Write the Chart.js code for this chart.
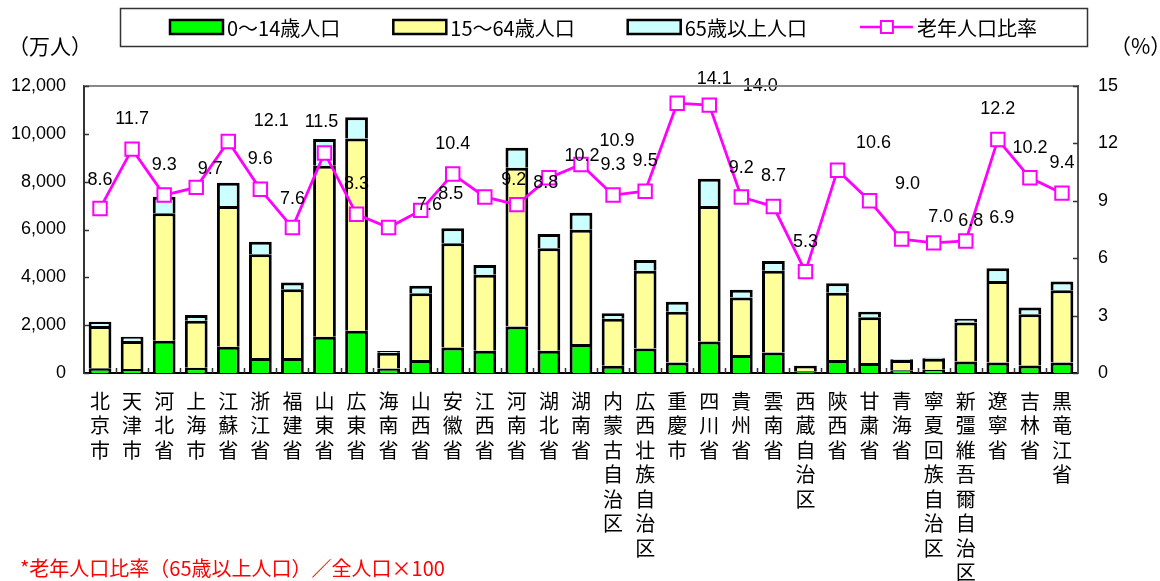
<!DOCTYPE html>
<html>
<head>
<meta charset="utf-8">
<script src="https://cdn.jsdelivr.net/npm/chart.js@4.4.1/dist/chart.umd.min.js"></script>
<style>
  body { margin: 0; background: #fff; }
</style>
</head>
<body>
<canvas id="chart" width="1160" height="581"></canvas>
<script>
// provinces, left to right
const provinces = ['北京市', '天津市', '河北省', '上海市', '江蘇省', '浙江省', '福建省', '山東省', '広東省', '海南省',
  '山西省', '安徽省', '江西省', '河南省', '湖北省', '湖南省', '内蒙古自治区', '広西壮族自治区', '重慶市', '四川省',
  '貴州省', '雲南省', '西蔵自治区', '陝西省', '甘粛省', '青海省', '寧夏回族自治区', '新彊維吾爾自治区', '遼寧省', '吉林省', '黒竜江省'];

// population, 10k persons
const age0to14 = [195, 170, 1348, 221, 1098, 626, 626, 1520, 1766, 190,
  543, 1069, 931, 1945, 931, 1210, 305, 1027, 442, 1319,
  751, 860, 70, 543, 417, 115, 140, 484, 442, 317, 442];
const age15to64 = [1765, 1170, 5330, 1962, 5885, 4341, 2880, 7150, 8043, 655,
  2791, 4357, 3172, 6637, 4287, 4780, 1960, 3250, 2117, 5660,
  2405, 3415, 230, 2816, 1912, 424, 455, 1626, 3406, 2142, 3022];
const age65plus = [185, 177, 694, 238, 973, 526, 280, 1110, 889, 70,
  310, 626, 417, 835, 590, 715, 235, 450, 420, 1140,
  320, 410, 17, 398, 230, 41, 43, 156, 535, 279, 359];

// elderly ratio, %
const elderlyRatio = [8.6, 11.7, 9.3, 9.7, 12.1, 9.6, 7.6, 11.5, 8.3, 7.6,
  8.5, 10.4, 9.2, 8.8, 10.2, 10.9, 9.3, 9.5, 14.1, 14.0,
  9.2, 8.7, 5.3, 10.6, 9.0, 7.0, 6.8, 6.9, 12.2, 10.2, 9.4];

// where each ratio label sits relative to its point (the original has some pushed aside)
const labelDx = [0, 0, 0, 14, 43, 0, 0, -3, 0, 41, 30, 0, 29, 29, 33, 36, 0, 0, 37, 51, 0, 0, 0, 36, 38, 39, 37, 36, 0, 0, 0];
const labelDy = [-28, -30, -30, -18, -20, -30, -29, -31, -30, -23, -16, -30, -17, -22, -22, -23, -30, -30, -24, -19, -29, -31, -30, -27, -17, -22, -22, -23, -31, -30, -30];

const leftTicks = [0, 2000, 4000, 6000, 8000, 10000, 12000];
const rightTicks = [0, 3, 6, 9, 12, 15];

const jpFont = '"Noto Sans CJK JP", sans-serif';
const numFont = '"Liberation Sans", Arial, sans-serif';

const decor = {
  id: 'decor',
  afterDatasetsDraw(chart) {
    const ctx = chart.ctx;
    const line = chart.getDatasetMeta(3);
    ctx.save();
    ctx.font = '18px ' + numFont;
    ctx.fillStyle = '#000';
    ctx.textAlign = 'center';
    ctx.textBaseline = 'middle';
    line.data.forEach((pt, i) => {
      ctx.fillText(elderlyRatio[i].toFixed(1), pt.x + labelDx[i], pt.y + labelDy[i]);
    });
    ctx.restore();
  },
  afterDraw(chart) {
    const ctx = chart.ctx;
    const area = chart.chartArea;
    const x = chart.scales.x, y = chart.scales.y, y1 = chart.scales.y1;
    ctx.save();

    // top frame line
    ctx.strokeStyle = '#888';
    ctx.lineWidth = 2;
    ctx.beginPath();
    ctx.moveTo(area.left, area.top);
    ctx.lineTo(area.right, area.top);
    ctx.stroke();

    // inward tick marks
    ctx.strokeStyle = '#333';
    ctx.lineWidth = 1.5;
    ctx.beginPath();
    leftTicks.forEach(v => {
      const py = Math.round(y.getPixelForValue(v)) + 0.5;
      ctx.moveTo(area.left, py); ctx.lineTo(area.left + 5, py);
    });
    rightTicks.forEach(v => {
      const py = Math.round(y1.getPixelForValue(v)) + 0.5;
      ctx.moveTo(area.right - 5, py); ctx.lineTo(area.right, py);
    });
    const step = x.width / provinces.length;
    for (let i = 1; i < provinces.length; i++) {
      const px = Math.round(x.getPixelForValue(i) - step / 2) + 0.5;
      ctx.moveTo(px, area.bottom); ctx.lineTo(px, area.bottom - 5);
    }
    ctx.stroke();

    // legend
    ctx.strokeStyle = '#333';
    ctx.lineWidth = 1.5;
    ctx.strokeRect(120.5, 8.5, 967, 38);
    ctx.font = '20px ' + jpFont;
    ctx.textBaseline = 'middle';
    ctx.textAlign = 'left';
    let lx = 170;
    const ly = 27;
    chart.data.datasets.forEach(ds => {
      if (ds.type === 'line') {
        ctx.strokeStyle = ds.borderColor;
        ctx.lineWidth = 2.5;
        ctx.beginPath();
        ctx.moveTo(lx, ly); ctx.lineTo(lx + 53, ly);
        ctx.stroke();
        ctx.fillStyle = '#fff';
        ctx.lineWidth = 2;
        ctx.fillRect(lx + 21, ly - 6, 12, 12);
        ctx.strokeRect(lx + 21, ly - 6, 12, 12);
      } else {
        ctx.fillStyle = ds.backgroundColor;
        ctx.fillRect(lx, ly - 7, 53, 14);
        ctx.strokeStyle = '#000';
        ctx.lineWidth = 2.5;
        ctx.strokeRect(lx, ly - 7, 53, 14);
      }
      ctx.fillStyle = '#000';
      ctx.fillText(ds.label, lx + 57, ly + 1);
      lx += 57 + ctx.measureText(ds.label).width + 53;
    });

    // units
    ctx.font = '21px ' + jpFont;
    ctx.fillText('（万人）', 8, 46);
    ctx.fillText('（%）', 1110, 46);

    // footnote
    ctx.fillStyle = '#ff0000';
    ctx.font = '20px ' + jpFont;
    ctx.fillText('*老年人口比率（65歳以上人口）／全人口×100', 20, 568);
    ctx.restore();
  }
};

const barStyle = {
  type: 'bar',
  yAxisID: 'y',
  borderColor: '#000',
  borderWidth: 3,
  borderSkipped: 'start',
  barPercentage: 0.71,
  categoryPercentage: 1,
  order: 1
};

new Chart(document.getElementById('chart'), {
  data: {
    labels: provinces,
    datasets: [
      Object.assign({ label: '0～14歳人口', data: age0to14, backgroundColor: '#00ff00' }, barStyle),
      Object.assign({ label: '15～64歳人口', data: age15to64, backgroundColor: '#ffff99' }, barStyle),
      Object.assign({ label: '65歳以上人口', data: age65plus, backgroundColor: '#ccffff' }, barStyle),
      {
        type: 'line',
        label: '老年人口比率',
        data: elderlyRatio,
        yAxisID: 'y1',
        borderColor: '#ff00ff',
        borderWidth: 2.8,
        pointStyle: 'rect',
        pointRadius: 9.5,
        pointBorderWidth: 2,
        pointBorderColor: '#ff00ff',
        pointBackgroundColor: '#fff',
        tension: 0,
        order: 0
      }
    ]
  },
  options: {
    responsive: false,
    animation: false,
    devicePixelRatio: 1,
    layout: { padding: { top: 86, left: 0, right: 0, bottom: 0 } },
    plugins: {
      legend: { display: false },
      tooltip: { enabled: false }
    },
    scales: {
      x: {
        stacked: true,
        grid: { display: false },
        border: { color: '#000', width: 2 },
        ticks: {
          autoSkip: false,
          maxRotation: 0,
          minRotation: 0,
          padding: 8,
          color: '#000',
          font: { family: jpFont, size: 20, lineHeight: 1.225 },
          callback: (v, i) => provinces[i].split('')
        },
        afterFit: s => { s.height = 208; }
      },
      y: {
        stacked: true,
        position: 'left',
        min: 0,
        max: 12000,
        grid: { display: false },
        border: { color: '#333', width: 2 },
        ticks: {
          stepSize: 2000,
          padding: 10,
          color: '#000',
          font: { family: numFont, size: 18 }
        },
        afterFit: s => { s.width = 84; }
      },
      y1: {
        position: 'right',
        min: 0,
        max: 15,
        grid: { display: false },
        border: { color: '#555', width: 2 },
        ticks: {
          stepSize: 3,
          padding: 12,
          color: '#000',
          font: { family: numFont, size: 18 }
        },
        afterFit: s => { s.width = 82; }
      }
    }
  },
  plugins: [decor]
});
</script>
</body>
</html>
